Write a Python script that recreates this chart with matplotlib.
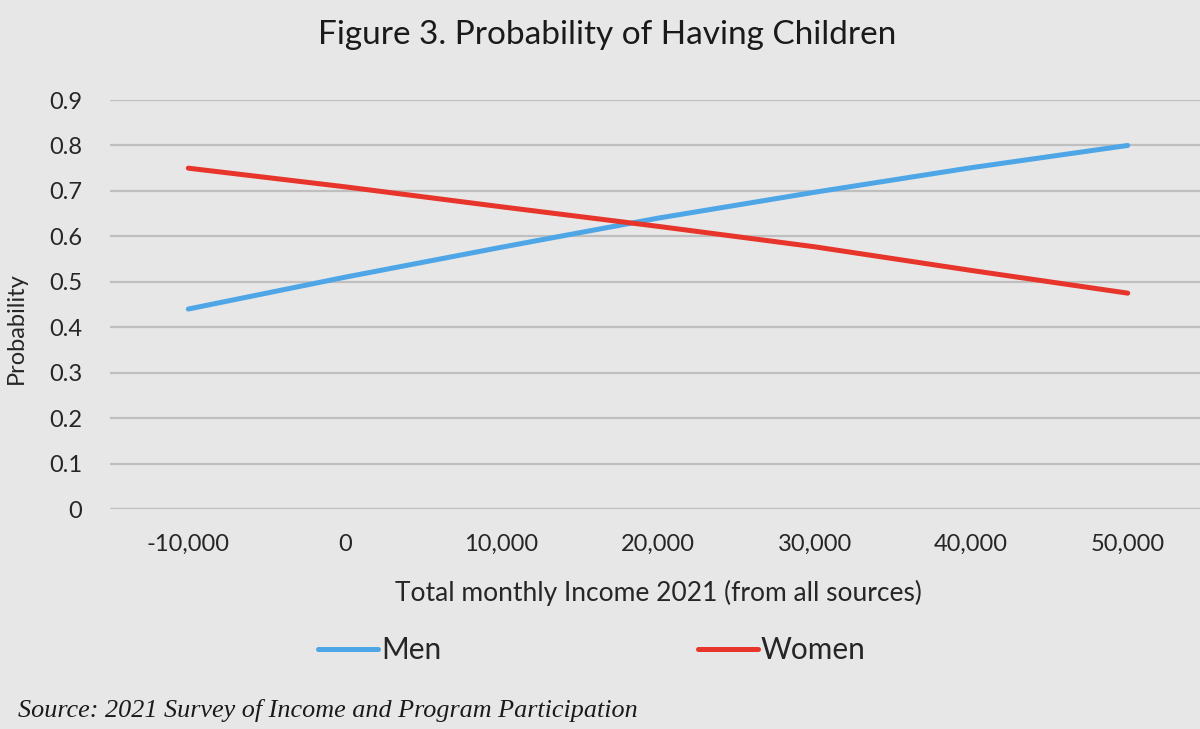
import numpy as np
import matplotlib.pyplot as plt
from matplotlib.ticker import FuncFormatter

# data
income = [-10000, 0, 10000, 20000, 30000, 40000, 50000]
men = [0.44, 0.51, 0.576, 0.64, 0.697, 0.751, 0.80]
women = [0.75, 0.709, 0.665, 0.622, 0.577, 0.525, 0.475]
y_ticks = [0, 0.1, 0.2, 0.3, 0.4, 0.5, 0.6, 0.7, 0.8, 0.9]

bg = '#e7e7e7'
plt.rcParams['font.family'] = ['Lato', 'DejaVu Sans']

fig = plt.figure(figsize=(12, 7.29), dpi=100, facecolor=bg)
ax = fig.add_axes([110/1200, 220/729, 1096/1200, 409/729])
ax.set_facecolor(bg)

ax.plot(income, men, color='#4ea6e6', linewidth=3.6, solid_capstyle='round', label='Men')
ax.plot(income, women, color='#e8352b', linewidth=3.6, solid_capstyle='round', label='Women')

ax.set_xlim(-15000, 55000)
ax.set_ylim(0, 0.9)
ax.set_xticks(income)
ax.xaxis.set_major_formatter(FuncFormatter(lambda v, p: f'{int(v):,}'))
ax.set_yticks(y_ticks)
ax.set_yticklabels(['0' if t == 0 else f'{t:.1f}' for t in y_ticks])

ax.grid(axis='y', color='#bfbfbf', linewidth=1.6)
ax.set_axisbelow(True)
for s in ax.spines.values():
    s.set_visible(False)
ax.axhline(0, color='#d8d8d8', linewidth=1.6, zorder=0)
ax.tick_params(length=0, labelsize=17, colors='#262626')
ax.tick_params(axis='y', pad=20)
ax.tick_params(axis='x', pad=18)

ax.set_ylabel('Probability', fontsize=17, color='#262626')
ax.yaxis.set_label_coords(-0.085, 0.4425)
ax.yaxis.label.set_va('center')
ax.set_xlabel('Total monthly Income 2021 (from all sources)', fontsize=19, color='#262626')
ax.xaxis.set_label_coords(0.5, (509 - 593) / 409)
ax.xaxis.label.set_va('center')

fig.text(0.506, 1 - 35/729, 'Figure 3. Probability of Having Children', ha='center', va='center',
         fontsize=24, color='#1a1a1a')

fig.legend(loc='center', bbox_to_anchor=(592/1200, 1 - 650/729), ncol=2, frameon=False,
           fontsize=21.5, handlelength=2.0, handletextpad=0.1, columnspacing=8.6,
           labelcolor='#262626')

fig.text(18/1200, 1 - 710/729, 'Source: 2021 Survey of Income and Program Participation',
         ha='left', va='center', fontsize=18.8, style='italic', family='Liberation Serif',
         color='#1a1a1a')

fig.savefig('out.png', dpi=100, facecolor=bg)
